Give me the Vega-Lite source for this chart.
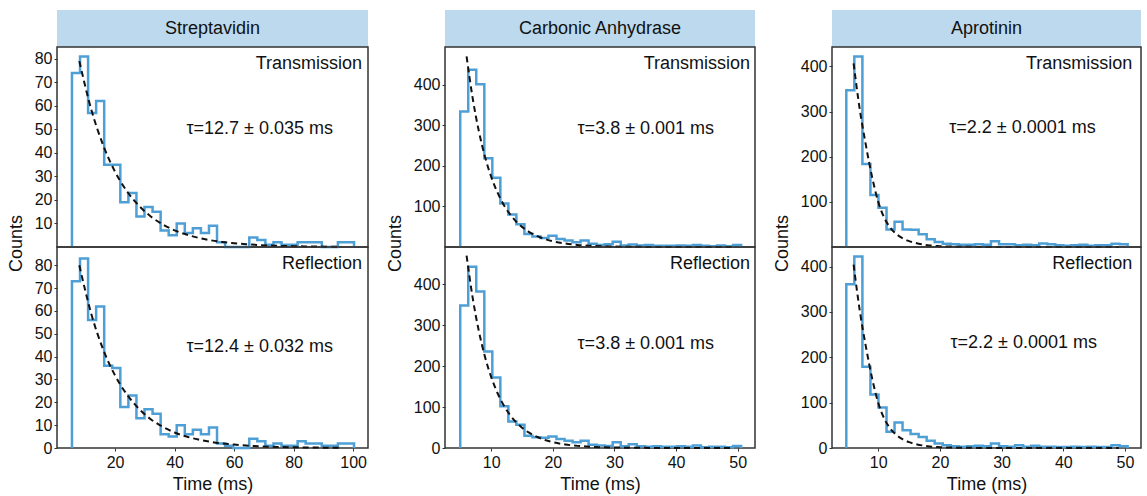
{
"$schema": "https://vega.github.io/schema/vega-lite/v6.json",
"padding": {"left": 6, "top": 10, "right": 0, "bottom": 0},
"background": "white",
"spacing": 16,
"config": {
  "font": "Liberation Sans",
  "view": {"stroke": "#333", "strokeWidth": 1.5},
  "axis": {"grid": false, "domain": false, "tickColor": "#333", "tickSize": 3, "labelFontSize": 16, "labelColor": "#111", "titleFontSize": 18, "titleFontWeight": "normal", "titleColor": "#111", "labelPadding": 2},
  "line": {"clip": true},
  "text": {"fontSize": 18, "color": "#111"}
},
"datasets": {
"hist": [
{"p":"S","m":"T","i":0,"t":5.53,"c":0},{"p":"S","m":"T","i":1,"t":5.53,"c":74},{"p":"S","m":"T","i":2,"t":8.24,"c":81},{"p":"S","m":"T","i":3,"t":10.95,"c":57},{"p":"S","m":"T","i":4,"t":13.65,"c":62},{"p":"S","m":"T","i":5,"t":16.36,"c":35},{"p":"S","m":"T","i":6,"t":19.07,"c":35},{"p":"S","m":"T","i":7,"t":21.78,"c":19},{"p":"S","m":"T","i":8,"t":24.49,"c":23},{"p":"S","m":"T","i":9,"t":27.19,"c":13},{"p":"S","m":"T","i":10,"t":29.9,"c":17},{"p":"S","m":"T","i":11,"t":32.61,"c":15},{"p":"S","m":"T","i":12,"t":35.32,"c":7},{"p":"S","m":"T","i":13,"t":38.03,"c":5},{"p":"S","m":"T","i":14,"t":40.73,"c":10},{"p":"S","m":"T","i":15,"t":43.44,"c":6},{"p":"S","m":"T","i":16,"t":46.15,"c":8},{"p":"S","m":"T","i":17,"t":48.86,"c":6},{"p":"S","m":"T","i":18,"t":51.57,"c":9},{"p":"S","m":"T","i":19,"t":54.27,"c":2},{"p":"S","m":"T","i":20,"t":56.98,"c":0},{"p":"S","m":"T","i":21,"t":59.69,"c":0},{"p":"S","m":"T","i":22,"t":62.4,"c":0},{"p":"S","m":"T","i":23,"t":65.11,"c":4},{"p":"S","m":"T","i":24,"t":67.81,"c":3},{"p":"S","m":"T","i":25,"t":70.52,"c":1},{"p":"S","m":"T","i":26,"t":73.23,"c":2},{"p":"S","m":"T","i":27,"t":75.94,"c":1},{"p":"S","m":"T","i":28,"t":78.65,"c":1},{"p":"S","m":"T","i":29,"t":81.35,"c":2},{"p":"S","m":"T","i":30,"t":84.06,"c":2},{"p":"S","m":"T","i":31,"t":86.77,"c":2},{"p":"S","m":"T","i":32,"t":89.48,"c":0},{"p":"S","m":"T","i":33,"t":92.19,"c":0},{"p":"S","m":"T","i":34,"t":94.89,"c":2},{"p":"S","m":"T","i":35,"t":97.6,"c":2},{"p":"S","m":"T","i":36,"t":100.31,"c":0},
{"p":"S","m":"R","i":0,"t":5.53,"c":0},{"p":"S","m":"R","i":1,"t":5.53,"c":73},{"p":"S","m":"R","i":2,"t":8.24,"c":83},{"p":"S","m":"R","i":3,"t":10.95,"c":56},{"p":"S","m":"R","i":4,"t":13.65,"c":62},{"p":"S","m":"R","i":5,"t":16.36,"c":36},{"p":"S","m":"R","i":6,"t":19.07,"c":35},{"p":"S","m":"R","i":7,"t":21.78,"c":18},{"p":"S","m":"R","i":8,"t":24.49,"c":23},{"p":"S","m":"R","i":9,"t":27.19,"c":13},{"p":"S","m":"R","i":10,"t":29.9,"c":17},{"p":"S","m":"R","i":11,"t":32.61,"c":15},{"p":"S","m":"R","i":12,"t":35.32,"c":6},{"p":"S","m":"R","i":13,"t":38.03,"c":5},{"p":"S","m":"R","i":14,"t":40.73,"c":10},{"p":"S","m":"R","i":15,"t":43.44,"c":6},{"p":"S","m":"R","i":16,"t":46.15,"c":8},{"p":"S","m":"R","i":17,"t":48.86,"c":6},{"p":"S","m":"R","i":18,"t":51.57,"c":9},{"p":"S","m":"R","i":19,"t":54.27,"c":2},{"p":"S","m":"R","i":20,"t":56.98,"c":1},{"p":"S","m":"R","i":21,"t":59.69,"c":0},{"p":"S","m":"R","i":22,"t":62.4,"c":0},{"p":"S","m":"R","i":23,"t":65.11,"c":4},{"p":"S","m":"R","i":24,"t":67.81,"c":3},{"p":"S","m":"R","i":25,"t":70.52,"c":1},{"p":"S","m":"R","i":26,"t":73.23,"c":2},{"p":"S","m":"R","i":27,"t":75.94,"c":1},{"p":"S","m":"R","i":28,"t":78.65,"c":1},{"p":"S","m":"R","i":29,"t":81.35,"c":3},{"p":"S","m":"R","i":30,"t":84.06,"c":2},{"p":"S","m":"R","i":31,"t":86.77,"c":2},{"p":"S","m":"R","i":32,"t":89.48,"c":1},{"p":"S","m":"R","i":33,"t":92.19,"c":1},{"p":"S","m":"R","i":34,"t":94.89,"c":2},{"p":"S","m":"R","i":35,"t":97.6,"c":2},{"p":"S","m":"R","i":36,"t":100.31,"c":0},
{"p":"C","m":"T","i":0,"t":4.97,"c":0},{"p":"C","m":"T","i":1,"t":4.97,"c":334},{"p":"C","m":"T","i":2,"t":6.27,"c":437},{"p":"C","m":"T","i":3,"t":7.57,"c":401},{"p":"C","m":"T","i":4,"t":8.88,"c":219},{"p":"C","m":"T","i":5,"t":10.18,"c":171},{"p":"C","m":"T","i":6,"t":11.48,"c":107},{"p":"C","m":"T","i":7,"t":12.78,"c":80},{"p":"C","m":"T","i":8,"t":14.08,"c":56},{"p":"C","m":"T","i":9,"t":15.39,"c":32},{"p":"C","m":"T","i":10,"t":16.69,"c":26},{"p":"C","m":"T","i":11,"t":17.99,"c":22},{"p":"C","m":"T","i":12,"t":19.29,"c":28},{"p":"C","m":"T","i":13,"t":20.59,"c":20},{"p":"C","m":"T","i":14,"t":21.9,"c":16},{"p":"C","m":"T","i":15,"t":23.2,"c":12},{"p":"C","m":"T","i":16,"t":24.5,"c":16},{"p":"C","m":"T","i":17,"t":25.8,"c":8},{"p":"C","m":"T","i":18,"t":27.1,"c":5},{"p":"C","m":"T","i":19,"t":28.41,"c":7},{"p":"C","m":"T","i":20,"t":29.71,"c":13},{"p":"C","m":"T","i":21,"t":31.01,"c":4},{"p":"C","m":"T","i":22,"t":32.31,"c":6},{"p":"C","m":"T","i":23,"t":33.61,"c":4},{"p":"C","m":"T","i":24,"t":34.92,"c":5},{"p":"C","m":"T","i":25,"t":36.22,"c":3},{"p":"C","m":"T","i":26,"t":37.52,"c":3},{"p":"C","m":"T","i":27,"t":38.82,"c":3},{"p":"C","m":"T","i":28,"t":40.12,"c":4},{"p":"C","m":"T","i":29,"t":41.43,"c":3},{"p":"C","m":"T","i":30,"t":42.73,"c":5},{"p":"C","m":"T","i":31,"t":44.03,"c":3},{"p":"C","m":"T","i":32,"t":45.33,"c":2},{"p":"C","m":"T","i":33,"t":46.63,"c":4},{"p":"C","m":"T","i":34,"t":47.94,"c":2},{"p":"C","m":"T","i":35,"t":49.24,"c":5},{"p":"C","m":"T","i":36,"t":50.54,"c":0},
{"p":"C","m":"R","i":0,"t":4.97,"c":0},{"p":"C","m":"R","i":1,"t":4.97,"c":348},{"p":"C","m":"R","i":2,"t":6.27,"c":443},{"p":"C","m":"R","i":3,"t":7.57,"c":382},{"p":"C","m":"R","i":4,"t":8.88,"c":236},{"p":"C","m":"R","i":5,"t":10.18,"c":172},{"p":"C","m":"R","i":6,"t":11.48,"c":102},{"p":"C","m":"R","i":7,"t":12.78,"c":65},{"p":"C","m":"R","i":8,"t":14.08,"c":57},{"p":"C","m":"R","i":9,"t":15.39,"c":30},{"p":"C","m":"R","i":10,"t":16.69,"c":26},{"p":"C","m":"R","i":11,"t":17.99,"c":25},{"p":"C","m":"R","i":12,"t":19.29,"c":28},{"p":"C","m":"R","i":13,"t":20.59,"c":22},{"p":"C","m":"R","i":14,"t":21.9,"c":18},{"p":"C","m":"R","i":15,"t":23.2,"c":14},{"p":"C","m":"R","i":16,"t":24.5,"c":18},{"p":"C","m":"R","i":17,"t":25.8,"c":8},{"p":"C","m":"R","i":18,"t":27.1,"c":6},{"p":"C","m":"R","i":19,"t":28.41,"c":5},{"p":"C","m":"R","i":20,"t":29.71,"c":14},{"p":"C","m":"R","i":21,"t":31.01,"c":4},{"p":"C","m":"R","i":22,"t":32.31,"c":9},{"p":"C","m":"R","i":23,"t":33.61,"c":4},{"p":"C","m":"R","i":24,"t":34.92,"c":3},{"p":"C","m":"R","i":25,"t":36.22,"c":4},{"p":"C","m":"R","i":26,"t":37.52,"c":3},{"p":"C","m":"R","i":27,"t":38.82,"c":3},{"p":"C","m":"R","i":28,"t":40.12,"c":4},{"p":"C","m":"R","i":29,"t":41.43,"c":3},{"p":"C","m":"R","i":30,"t":42.73,"c":6},{"p":"C","m":"R","i":31,"t":44.03,"c":2},{"p":"C","m":"R","i":32,"t":45.33,"c":3},{"p":"C","m":"R","i":33,"t":46.63,"c":3},{"p":"C","m":"R","i":34,"t":47.94,"c":2},{"p":"C","m":"R","i":35,"t":49.24,"c":5},{"p":"C","m":"R","i":36,"t":50.54,"c":0},
{"p":"A","m":"T","i":0,"t":4.82,"c":0},{"p":"A","m":"T","i":1,"t":4.82,"c":347},{"p":"A","m":"T","i":2,"t":6.12,"c":422},{"p":"A","m":"T","i":3,"t":7.43,"c":184},{"p":"A","m":"T","i":4,"t":8.73,"c":115},{"p":"A","m":"T","i":5,"t":10.03,"c":87},{"p":"A","m":"T","i":6,"t":11.34,"c":39},{"p":"A","m":"T","i":7,"t":12.64,"c":56},{"p":"A","m":"T","i":8,"t":13.94,"c":39},{"p":"A","m":"T","i":9,"t":15.24,"c":38},{"p":"A","m":"T","i":10,"t":16.55,"c":28},{"p":"A","m":"T","i":11,"t":17.85,"c":17},{"p":"A","m":"T","i":12,"t":19.15,"c":11},{"p":"A","m":"T","i":13,"t":20.46,"c":7},{"p":"A","m":"T","i":14,"t":21.76,"c":6},{"p":"A","m":"T","i":15,"t":23.06,"c":5},{"p":"A","m":"T","i":16,"t":24.37,"c":5},{"p":"A","m":"T","i":17,"t":25.67,"c":6},{"p":"A","m":"T","i":18,"t":26.97,"c":5},{"p":"A","m":"T","i":19,"t":28.27,"c":13},{"p":"A","m":"T","i":20,"t":29.58,"c":6},{"p":"A","m":"T","i":21,"t":30.88,"c":6},{"p":"A","m":"T","i":22,"t":32.18,"c":4},{"p":"A","m":"T","i":23,"t":33.49,"c":5},{"p":"A","m":"T","i":24,"t":34.79,"c":4},{"p":"A","m":"T","i":25,"t":36.09,"c":8},{"p":"A","m":"T","i":26,"t":37.4,"c":6},{"p":"A","m":"T","i":27,"t":38.7,"c":4},{"p":"A","m":"T","i":28,"t":39.99,"c":3},{"p":"A","m":"T","i":29,"t":41.3,"c":4},{"p":"A","m":"T","i":30,"t":42.61,"c":5},{"p":"A","m":"T","i":31,"t":43.91,"c":3},{"p":"A","m":"T","i":32,"t":45.21,"c":4},{"p":"A","m":"T","i":33,"t":46.52,"c":4},{"p":"A","m":"T","i":34,"t":47.82,"c":7},{"p":"A","m":"T","i":35,"t":49.12,"c":6},{"p":"A","m":"T","i":36,"t":50.43,"c":0},
{"p":"A","m":"R","i":0,"t":4.82,"c":0},{"p":"A","m":"R","i":1,"t":4.82,"c":361},{"p":"A","m":"R","i":2,"t":6.12,"c":422},{"p":"A","m":"R","i":3,"t":7.43,"c":179},{"p":"A","m":"R","i":4,"t":8.73,"c":118},{"p":"A","m":"R","i":5,"t":10.03,"c":89},{"p":"A","m":"R","i":6,"t":11.34,"c":36},{"p":"A","m":"R","i":7,"t":12.64,"c":56},{"p":"A","m":"R","i":8,"t":13.94,"c":39},{"p":"A","m":"R","i":9,"t":15.24,"c":31},{"p":"A","m":"R","i":10,"t":16.55,"c":24},{"p":"A","m":"R","i":11,"t":17.85,"c":16},{"p":"A","m":"R","i":12,"t":19.15,"c":10},{"p":"A","m":"R","i":13,"t":20.46,"c":6},{"p":"A","m":"R","i":14,"t":21.76,"c":4},{"p":"A","m":"R","i":15,"t":23.06,"c":3},{"p":"A","m":"R","i":16,"t":24.37,"c":4},{"p":"A","m":"R","i":17,"t":25.67,"c":5},{"p":"A","m":"R","i":18,"t":26.97,"c":4},{"p":"A","m":"R","i":19,"t":28.27,"c":10},{"p":"A","m":"R","i":20,"t":29.58,"c":4},{"p":"A","m":"R","i":21,"t":30.88,"c":3},{"p":"A","m":"R","i":22,"t":32.18,"c":6},{"p":"A","m":"R","i":23,"t":33.49,"c":3},{"p":"A","m":"R","i":24,"t":34.79,"c":5},{"p":"A","m":"R","i":25,"t":36.09,"c":3},{"p":"A","m":"R","i":26,"t":37.4,"c":3},{"p":"A","m":"R","i":27,"t":38.7,"c":2},{"p":"A","m":"R","i":28,"t":39.99,"c":2},{"p":"A","m":"R","i":29,"t":41.3,"c":3},{"p":"A","m":"R","i":30,"t":42.61,"c":2},{"p":"A","m":"R","i":31,"t":43.91,"c":3},{"p":"A","m":"R","i":32,"t":45.21,"c":2},{"p":"A","m":"R","i":33,"t":46.52,"c":2},{"p":"A","m":"R","i":34,"t":47.82,"c":6},{"p":"A","m":"R","i":35,"t":49.12,"c":4},{"p":"A","m":"R","i":36,"t":50.43,"c":0}
],
"fit": [
{"p":"S","m":"T","t":8,"c":79},{"p":"S","m":"T","t":12,"c":58.5},{"p":"S","m":"T","t":16,"c":43.3},{"p":"S","m":"T","t":20,"c":32},{"p":"S","m":"T","t":24,"c":23.7},{"p":"S","m":"T","t":28,"c":17.6},{"p":"S","m":"T","t":32,"c":13},{"p":"S","m":"T","t":36,"c":9.6},{"p":"S","m":"T","t":40,"c":7.1},{"p":"S","m":"T","t":44,"c":5.3},{"p":"S","m":"T","t":48,"c":3.9},{"p":"S","m":"T","t":52,"c":2.9},{"p":"S","m":"T","t":56,"c":2.1},{"p":"S","m":"T","t":60,"c":1.6},{"p":"S","m":"T","t":64,"c":1.2},{"p":"S","m":"T","t":68,"c":0.86},{"p":"S","m":"T","t":72,"c":0.64},{"p":"S","m":"T","t":76,"c":0.47},{"p":"S","m":"T","t":80,"c":0.35},{"p":"S","m":"T","t":84,"c":0.26},{"p":"S","m":"T","t":88,"c":0.19},{"p":"S","m":"T","t":92,"c":0.14},{"p":"S","m":"T","t":96,"c":0.1},
{"p":"S","m":"R","t":8,"c":80},{"p":"S","m":"R","t":12,"c":58.8},{"p":"S","m":"R","t":16,"c":43.2},{"p":"S","m":"R","t":20,"c":31.8},{"p":"S","m":"R","t":24,"c":23.4},{"p":"S","m":"R","t":28,"c":17.2},{"p":"S","m":"R","t":32,"c":12.6},{"p":"S","m":"R","t":36,"c":9.3},{"p":"S","m":"R","t":40,"c":6.8},{"p":"S","m":"R","t":44,"c":5},{"p":"S","m":"R","t":48,"c":3.7},{"p":"S","m":"R","t":52,"c":2.7},{"p":"S","m":"R","t":56,"c":2},{"p":"S","m":"R","t":60,"c":1.5},{"p":"S","m":"R","t":64,"c":1.1},{"p":"S","m":"R","t":68,"c":0.8},{"p":"S","m":"R","t":72,"c":0.58},{"p":"S","m":"R","t":76,"c":0.43},{"p":"S","m":"R","t":80,"c":0.32},{"p":"S","m":"R","t":84,"c":0.23},{"p":"S","m":"R","t":88,"c":0.17},{"p":"S","m":"R","t":92,"c":0.13},{"p":"S","m":"R","t":96,"c":0.09},
{"p":"C","m":"T","t":6,"c":470},{"p":"C","m":"T","t":7,"c":366},{"p":"C","m":"T","t":8,"c":285},{"p":"C","m":"T","t":9,"c":222},{"p":"C","m":"T","t":10,"c":173},{"p":"C","m":"T","t":11,"c":135},{"p":"C","m":"T","t":12,"c":105},{"p":"C","m":"T","t":13,"c":81.7},{"p":"C","m":"T","t":14,"c":63.6},{"p":"C","m":"T","t":15,"c":49.6},{"p":"C","m":"T","t":16,"c":38.6},{"p":"C","m":"T","t":17,"c":30.1},{"p":"C","m":"T","t":18,"c":23.4},{"p":"C","m":"T","t":19,"c":18.2},{"p":"C","m":"T","t":20,"c":14.2},{"p":"C","m":"T","t":22,"c":8.6},{"p":"C","m":"T","t":24,"c":5.2},{"p":"C","m":"T","t":26,"c":3.2},{"p":"C","m":"T","t":28,"c":1.9},{"p":"C","m":"T","t":30,"c":1.2},{"p":"C","m":"T","t":34,"c":0.4},{"p":"C","m":"T","t":38,"c":0.16},{"p":"C","m":"T","t":42,"c":0.06},{"p":"C","m":"T","t":49,"c":0.02},
{"p":"C","m":"R","t":6,"c":470},{"p":"C","m":"R","t":7,"c":366},{"p":"C","m":"R","t":8,"c":285},{"p":"C","m":"R","t":9,"c":222},{"p":"C","m":"R","t":10,"c":173},{"p":"C","m":"R","t":11,"c":135},{"p":"C","m":"R","t":12,"c":105},{"p":"C","m":"R","t":13,"c":81.7},{"p":"C","m":"R","t":14,"c":63.6},{"p":"C","m":"R","t":15,"c":49.6},{"p":"C","m":"R","t":16,"c":38.6},{"p":"C","m":"R","t":17,"c":30.1},{"p":"C","m":"R","t":18,"c":23.4},{"p":"C","m":"R","t":19,"c":18.2},{"p":"C","m":"R","t":20,"c":14.2},{"p":"C","m":"R","t":22,"c":8.6},{"p":"C","m":"R","t":24,"c":5.2},{"p":"C","m":"R","t":26,"c":3.2},{"p":"C","m":"R","t":28,"c":1.9},{"p":"C","m":"R","t":30,"c":1.2},{"p":"C","m":"R","t":34,"c":0.4},{"p":"C","m":"R","t":38,"c":0.16},{"p":"C","m":"R","t":42,"c":0.06},{"p":"C","m":"R","t":49,"c":0.02},
{"p":"A","m":"T","t":6,"c":407},{"p":"A","m":"T","t":7,"c":305},{"p":"A","m":"T","t":8,"c":225},{"p":"A","m":"T","t":9,"c":155},{"p":"A","m":"T","t":10,"c":100},{"p":"A","m":"T","t":11,"c":64},{"p":"A","m":"T","t":12,"c":42},{"p":"A","m":"T","t":13,"c":28},{"p":"A","m":"T","t":14,"c":19},{"p":"A","m":"T","t":15,"c":13},{"p":"A","m":"T","t":16,"c":9},{"p":"A","m":"T","t":18,"c":4},{"p":"A","m":"T","t":20,"c":1.9},{"p":"A","m":"T","t":22,"c":0.9},{"p":"A","m":"T","t":25,"c":0.3},{"p":"A","m":"T","t":30,"c":0.05},{"p":"A","m":"T","t":35,"c":0.01},{"p":"A","m":"T","t":42,"c":0},{"p":"A","m":"T","t":49,"c":0},
{"p":"A","m":"R","t":6,"c":404},{"p":"A","m":"R","t":7,"c":303},{"p":"A","m":"R","t":8,"c":223},{"p":"A","m":"R","t":9,"c":154},{"p":"A","m":"R","t":10,"c":99},{"p":"A","m":"R","t":11,"c":64},{"p":"A","m":"R","t":12,"c":42},{"p":"A","m":"R","t":13,"c":28},{"p":"A","m":"R","t":14,"c":19},{"p":"A","m":"R","t":15,"c":13},{"p":"A","m":"R","t":16,"c":9},{"p":"A","m":"R","t":18,"c":4},{"p":"A","m":"R","t":20,"c":1.9},{"p":"A","m":"R","t":22,"c":0.9},{"p":"A","m":"R","t":25,"c":0.3},{"p":"A","m":"R","t":30,"c":0.05},{"p":"A","m":"R","t":35,"c":0.01},{"p":"A","m":"R","t":42,"c":0},{"p":"A","m":"R","t":49,"c":0}
]
},
"hconcat": [
{
  "bounds": "flush", "spacing": 0,
  "vconcat": [
    {"width": 311, "height": 37, "view": {"fill": "#bcd9ed", "stroke": null},
     "data": {"values": [{"name": "Streptavidin"}]},
     "mark": {"type": "text"},
     "encoding": {"text": {"field": "name"}}},
    {"width": 311, "height": 200,
     "encoding": {
       "x": {"field": "t", "type": "quantitative", "scale": {"domain": [0.5, 105], "nice": false, "zero": false}, "axis": null},
       "y": {"field": "c", "type": "quantitative", "scale": {"domain": [0, 85], "nice": false}, "axis": {"values": [10,20,30,40,50,60,70,80], "title": "Counts", "titleY": 196, "titlePadding": 9}}
     },
     "layer": [
       {"data": {"name": "hist"}, "transform": [{"filter": "datum.p == 'S' && datum.m == 'T'"}],
        "mark": {"type": "line", "interpolate": "step-after", "color": "#4e9fd6", "strokeWidth": 2.5},
        "encoding": {"order": {"field": "i", "type": "quantitative"}}},
       {"data": {"name": "fit"}, "transform": [{"filter": "datum.p == 'S' && datum.m == 'T'"}],
        "mark": {"type": "line", "interpolate": "monotone", "color": "#111", "strokeWidth": 2, "strokeDash": [6, 4]}},
       {"data": {"values": [{"label": "Transmission", "t": 103, "c": 81.6}]},
        "mark": {"type": "text", "align": "right", "baseline": "top"},
        "encoding": {"text": {"field": "label"}}},
       {"data": {"values": [{"label": "τ=12.7 ± 0.035 ms", "t": 44, "c": 50}]},
        "mark": {"type": "text", "align": "left", "baseline": "middle"},
        "encoding": {"text": {"field": "label"}}}
     ]},
    {"width": 311, "height": 201,
     "encoding": {
       "x": {"field": "t", "type": "quantitative", "scale": {"domain": [0.5, 105], "nice": false, "zero": false}, "axis": {"values": [20,40,60,80,100], "title": "Time (ms)", "labelPadding": 3, "titlePadding": 5}},
       "y": {"field": "c", "type": "quantitative", "scale": {"domain": [0, 88], "nice": false}, "axis": {"values": [0,10,20,30,40,50,60,70,80], "title": null}}
     },
     "layer": [
       {"data": {"name": "hist"}, "transform": [{"filter": "datum.p == 'S' && datum.m == 'R'"}],
        "mark": {"type": "line", "interpolate": "step-after", "color": "#4e9fd6", "strokeWidth": 2.5},
        "encoding": {"order": {"field": "i", "type": "quantitative"}}},
       {"data": {"name": "fit"}, "transform": [{"filter": "datum.p == 'S' && datum.m == 'R'"}],
        "mark": {"type": "line", "interpolate": "monotone", "color": "#111", "strokeWidth": 2, "strokeDash": [6, 4]}},
       {"data": {"values": [{"label": "Reflection", "t": 103, "c": 84.4}]},
        "mark": {"type": "text", "align": "right", "baseline": "top"},
        "encoding": {"text": {"field": "label"}}},
       {"data": {"values": [{"label": "τ=12.4 ± 0.032 ms", "t": 44, "c": 44.3}]},
        "mark": {"type": "text", "align": "left", "baseline": "middle"},
        "encoding": {"text": {"field": "label"}}}
     ]}
  ]
},
{
  "bounds": "flush", "spacing": 0,
  "vconcat": [
    {"width": 310, "height": 37, "view": {"fill": "#bcd9ed", "stroke": null},
     "data": {"values": [{"name": "Carbonic Anhydrase"}]},
     "mark": {"type": "text"},
     "encoding": {"text": {"field": "name"}}},
    {"width": 310, "height": 200,
     "encoding": {
       "x": {"field": "t", "type": "quantitative", "scale": {"domain": [2.5, 52.8], "nice": false, "zero": false}, "axis": null},
       "y": {"field": "c", "type": "quantitative", "scale": {"domain": [0, 493], "nice": false}, "axis": {"values": [100,200,300,400], "title": "Counts", "titleY": 196, "titlePadding": 9}}
     },
     "layer": [
       {"data": {"name": "hist"}, "transform": [{"filter": "datum.p == 'C' && datum.m == 'T'"}],
        "mark": {"type": "line", "interpolate": "step-after", "color": "#4e9fd6", "strokeWidth": 2.5},
        "encoding": {"order": {"field": "i", "type": "quantitative"}}},
       {"data": {"name": "fit"}, "transform": [{"filter": "datum.p == 'C' && datum.m == 'T'"}],
        "mark": {"type": "line", "interpolate": "monotone", "color": "#111", "strokeWidth": 2, "strokeDash": [6, 4]}},
       {"data": {"values": [{"label": "Transmission", "t": 52, "c": 473}]},
        "mark": {"type": "text", "align": "right", "baseline": "top"},
        "encoding": {"text": {"field": "label"}}},
       {"data": {"values": [{"label": "τ=3.8 ± 0.001 ms", "t": 24, "c": 292}]},
        "mark": {"type": "text", "align": "left", "baseline": "middle"},
        "encoding": {"text": {"field": "label"}}}
     ]},
    {"width": 310, "height": 201,
     "encoding": {
       "x": {"field": "t", "type": "quantitative", "scale": {"domain": [2.5, 52.8], "nice": false, "zero": false}, "axis": {"values": [10,20,30,40,50], "title": "Time (ms)", "labelPadding": 3, "titlePadding": 5}},
       "y": {"field": "c", "type": "quantitative", "scale": {"domain": [0, 491], "nice": false}, "axis": {"values": [0,100,200,300,400], "title": null}}
     },
     "layer": [
       {"data": {"name": "hist"}, "transform": [{"filter": "datum.p == 'C' && datum.m == 'R'"}],
        "mark": {"type": "line", "interpolate": "step-after", "color": "#4e9fd6", "strokeWidth": 2.5},
        "encoding": {"order": {"field": "i", "type": "quantitative"}}},
       {"data": {"name": "fit"}, "transform": [{"filter": "datum.p == 'C' && datum.m == 'R'"}],
        "mark": {"type": "line", "interpolate": "monotone", "color": "#111", "strokeWidth": 2, "strokeDash": [6, 4]}},
       {"data": {"values": [{"label": "Reflection", "t": 52, "c": 471}]},
        "mark": {"type": "text", "align": "right", "baseline": "top"},
        "encoding": {"text": {"field": "label"}}},
       {"data": {"values": [{"label": "τ=3.8 ± 0.001 ms", "t": 24, "c": 255}]},
        "mark": {"type": "text", "align": "left", "baseline": "middle"},
        "encoding": {"text": {"field": "label"}}}
     ]}
  ]
},
{
  "bounds": "flush", "spacing": 0,
  "vconcat": [
    {"width": 309, "height": 37, "view": {"fill": "#bcd9ed", "stroke": null},
     "data": {"values": [{"name": "Aprotinin"}]},
     "mark": {"type": "text"},
     "encoding": {"text": {"field": "name"}}},
    {"width": 309, "height": 200,
     "encoding": {
       "x": {"field": "t", "type": "quantitative", "scale": {"domain": [2.5, 52.6], "nice": false, "zero": false}, "axis": null},
       "y": {"field": "c", "type": "quantitative", "scale": {"domain": [0, 443], "nice": false}, "axis": {"values": [100,200,300,400], "title": "Counts", "titleY": 196, "titlePadding": 9}}
     },
     "layer": [
       {"data": {"name": "hist"}, "transform": [{"filter": "datum.p == 'A' && datum.m == 'T'"}],
        "mark": {"type": "line", "interpolate": "step-after", "color": "#4e9fd6", "strokeWidth": 2.5},
        "encoding": {"order": {"field": "i", "type": "quantitative"}}},
       {"data": {"name": "fit"}, "transform": [{"filter": "datum.p == 'A' && datum.m == 'T'"}],
        "mark": {"type": "line", "interpolate": "monotone", "color": "#111", "strokeWidth": 2, "strokeDash": [6, 4]}},
       {"data": {"values": [{"label": "Transmission", "t": 51.2, "c": 425}]},
        "mark": {"type": "text", "align": "right", "baseline": "top"},
        "encoding": {"text": {"field": "label"}}},
       {"data": {"values": [{"label": "τ=2.2 ± 0.0001 ms", "t": 21.5, "c": 264}]},
        "mark": {"type": "text", "align": "left", "baseline": "middle"},
        "encoding": {"text": {"field": "label"}}}
     ]},
    {"width": 309, "height": 201,
     "encoding": {
       "x": {"field": "t", "type": "quantitative", "scale": {"domain": [2.5, 52.6], "nice": false, "zero": false}, "axis": {"values": [10,20,30,40,50], "title": "Time (ms)", "labelPadding": 3, "titlePadding": 5}},
       "y": {"field": "c", "type": "quantitative", "scale": {"domain": [0, 443], "nice": false}, "axis": {"values": [0,100,200,300,400], "title": null}}
     },
     "layer": [
       {"data": {"name": "hist"}, "transform": [{"filter": "datum.p == 'A' && datum.m == 'R'"}],
        "mark": {"type": "line", "interpolate": "step-after", "color": "#4e9fd6", "strokeWidth": 2.5},
        "encoding": {"order": {"field": "i", "type": "quantitative"}}},
       {"data": {"name": "fit"}, "transform": [{"filter": "datum.p == 'A' && datum.m == 'R'"}],
        "mark": {"type": "line", "interpolate": "monotone", "color": "#111", "strokeWidth": 2, "strokeDash": [6, 4]}},
       {"data": {"values": [{"label": "Reflection", "t": 51.2, "c": 425}]},
        "mark": {"type": "text", "align": "right", "baseline": "top"},
        "encoding": {"text": {"field": "label"}}},
       {"data": {"values": [{"label": "τ=2.2 ± 0.0001 ms", "t": 21.7, "c": 231}]},
        "mark": {"type": "text", "align": "left", "baseline": "middle"},
        "encoding": {"text": {"field": "label"}}}
     ]}
  ]
}
]
}
